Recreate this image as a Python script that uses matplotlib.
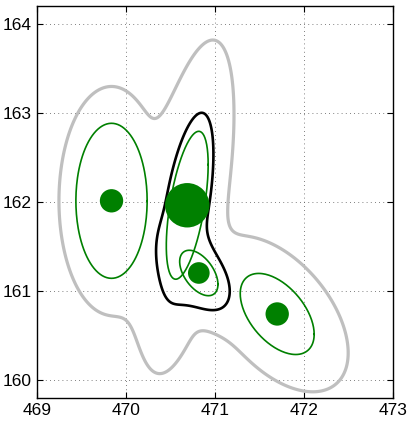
import numpy as np
import matplotlib
matplotlib.use("Agg")
import matplotlib.pyplot as plt

plt.rcParams['font.family'] = ['Liberation Sans', 'DejaVu Sans']

# mixture components (1-sigma ellipses drawn)
means_x = [469.84, 470.69, 470.82, 471.70]
means_y = [162.01, 161.96, 161.20, 160.74]
sig_x = [0.40, 0.235, 0.215, 0.415]
sig_y = [0.87, 0.83, 0.255, 0.455]
rho = [0.0, 0.55, -0.5, -0.5]
weights = [0.205, 0.39, 0.19, 0.205]
merged = [1, 2]  # components enclosed by the black line

xticks = [469, 470, 471, 472, 473]
yticks = [160, 161, 162, 163, 164]


def cov(i):
    sx, sy, r = sig_x[i], sig_y[i], rho[i]
    return np.array([[sx * sx, r * sx * sy], [r * sx * sy, sy * sy]])


def density(X, Y, comps=None):
    if comps is None:
        comps = range(len(weights))
    Z = np.zeros_like(X)
    for i in comps:
        C = cov(i)
        Ci = np.linalg.inv(C)
        dx = X - means_x[i]
        dy = Y - means_y[i]
        m = Ci[0, 0] * dx * dx + 2 * Ci[0, 1] * dx * dy + Ci[1, 1] * dy * dy
        Z += weights[i] / (2 * np.pi * np.sqrt(np.linalg.det(C))) * np.exp(-0.5 * m)
    return Z


fig = plt.figure(figsize=(4.15, 4.21), dpi=100)
ax = fig.add_axes([0.0884, 0.0553, 0.8586, 0.9312])

x = np.linspace(468.8, 473.2, 500)
y = np.linspace(159.5, 164.5, 500)
X, Y = np.meshgrid(x, y)
Z = density(X, Y)
Zm = density(X, Y, merged)

# contour levels picked where the lines pass in the reference
lev_gray = density(np.array(469.25), np.array(162.0))
lev_black = density(np.array(470.82), np.array(162.99), merged)

ax.contour(X, Y, Z, levels=[float(lev_gray)], colors=["#bfbfbf"], linewidths=2.3)
ax.contour(X, Y, Zm, levels=[float(lev_black)], colors=["black"], linewidths=1.9)

t = np.linspace(0, 2 * np.pi, 200)
for i in range(len(weights)):
    L = np.linalg.cholesky(cov(i))
    pts = L @ np.vstack([np.cos(t), np.sin(t)])
    ax.plot(means_x[i] + pts[0], means_y[i] + pts[1], color="#008000", lw=1.2)

# marker diameter proportional to weight
ax.scatter(means_x, means_y, s=(np.array(weights) * 82) ** 2, color="#008000",
           edgecolors="none", zorder=5)

ax.set_xlim(469, 473)
ax.set_ylim(159.8, 164.2)
ax.set_xticks(xticks)
ax.set_yticks(yticks)
ax.grid(True, linestyle=(0, (1, 4)), color="#555555", lw=0.6)
ax.tick_params(direction="in", top=True, right=True, labelsize=12.5, length=4)
ax.set_axisbelow(True)
for s in ax.spines.values():
    s.set_linewidth(1.0)

fig.savefig("out.png", dpi=100)
